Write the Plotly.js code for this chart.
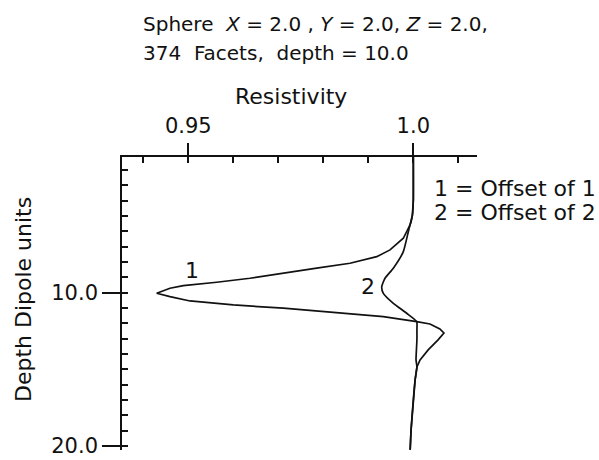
<!DOCTYPE html>
<html>
<head>
<meta charset="utf-8">
<script src="https://cdn.plot.ly/plotly-3.0.1.min.js"></script>
<style>
  body { margin: 0; background: #fff; }
  #chart { width: 599px; height: 460px; }
</style>
</head>
<body>
<div id="chart"></div>
<script>
// offset 1 curve (depth in dipole units, resistivity)
var depth1 = [1.15, 3.96, 4.94, 5.39, 5.59, 6.46, 7.22, 7.66, 8.09, 8.41, 8.74, 9.07, 9.33, 9.55, 9.72, 10.05,
              10.27, 10.55, 10.81, 11.02, 11.29, 11.57, 11.90, 12.05, 12.37, 12.64, 13.09, 13.74, 14.39, 14.85, 15.70, 17.0, 18.96, 20.26];
var res1   = [1.0, 1.0, 0.9998, 0.9995, 0.99927, 0.99778, 0.99482, 0.99187, 0.98593, 0.97853, 0.97111, 0.96371, 0.95631, 0.94889, 0.94593, 0.94298,
              0.94593, 0.95038, 0.96, 0.97111, 0.98222, 0.99333, 1.00076, 1.0037, 1.0059, 1.0068, 1.0055, 1.0033, 1.0015, 1.0008, 1.0004, 1.0, 0.9995, 0.9993];

// offset 2 curve
var depth2 = [1.15, 3.96, 4.94, 5.39, 5.59, 6.03, 7.33, 8.41, 9.07, 9.62, 10.05, 10.70, 11.35, 11.90, 12.44, 13.09, 14.39, 14.85, 15.70, 17.0, 18.96, 20.26];
var res2   = [1.0, 1.0, 0.9998, 0.9995, 0.99927, 0.99889, 0.99778, 0.99556, 0.99371, 0.99298, 0.99333, 0.99556, 0.99853, 1.00076, 1.0008, 1.0008, 1.0006, 1.0008, 1.0004, 1.0, 0.9995, 0.9993];

var xTickVals = [0.95, 1.0];
var xTickText = ["0.95", "1.0"];
var xMinorStep = 0.01;
var yTickVals = [10, 20];
var yTickText = ["10.0", "20.0"];
var yMinorStep = 1;

var ink = "#111";
var fnt = {family: "DejaVu Sans", size: 22, color: ink};
var titleFnt = {family: "DejaVu Sans", size: 20, color: ink};
var tickFnt = {family: "DejaVu Sans", size: 21, color: ink};

var xRange = [0.93527, 1.01415];
var yRange = [20.27, 1.16];

// map plotly's formatted tick labels onto the labels of the figure
var xAlias = {};
xTickVals.forEach(function (v, i) { xAlias[v.toFixed(2)] = xTickText[i]; });
var yAlias = {};
yTickVals.forEach(function (v, i) { yAlias[v.toFixed(1)] = yTickText[i]; });

var traces = [
  {x: res1, y: depth1, mode: "lines", type: "scatter", line: {color: ink, width: 1.7}, hoverinfo: "none"},
  {x: res2, y: depth2, mode: "lines", type: "scatter",
   line: {color: ink, width: 1.7, shape: "spline", smoothing: 0.5}, hoverinfo: "none"}
];

var layout = {
  width: 599,
  height: 460,
  margin: {l: 122, r: 122, t: 157, b: 10},
  showlegend: false,
  paper_bgcolor: "#fff",
  plot_bgcolor: "#fff",
  font: fnt,
  xaxis: {
    side: "top", range: xRange,
    tickmode: "linear", tick0: xTickVals[0], dtick: xTickVals[1] - xTickVals[0],
    tickformat: ".2f", labelalias: xAlias,
    ticks: "outside", ticklen: 12, tickwidth: 2, tickcolor: ink, tickfont: tickFnt, ticklabelstandoff: 2,
    minor: {tick0: 0, dtick: xMinorStep, ticks: "inside", ticklen: 6, tickwidth: 2, tickcolor: ink, showgrid: false},
    showline: true, linecolor: ink, linewidth: 1.8, showgrid: false, zeroline: false
  },
  yaxis: {
    range: yRange,
    tickmode: "linear", tick0: yTickVals[0], dtick: yTickVals[1] - yTickVals[0],
    tickformat: ".1f", labelalias: yAlias,
    ticks: "outside", ticklen: 18, tickwidth: 2, tickcolor: ink, tickfont: tickFnt,
    minor: {tick0: 0, dtick: yMinorStep, ticks: "inside", ticklen: 6, tickwidth: 2, tickcolor: ink, showgrid: false},
    showline: true, linecolor: ink, linewidth: 1.8, showgrid: false, zeroline: false
  },
  annotations: [
    {xref: "paper", yref: "paper", x: 0.0535, y: 1.454, xanchor: "left", yanchor: "middle", showarrow: false,
     text: "Sphere  <i>X</i> = 2.0 , <i>Y</i> = 2.0, <i>Z</i> = 2.0,", font: titleFnt},
    {xref: "paper", yref: "paper", x: 0.0535, y: 1.355, xanchor: "left", yanchor: "middle", showarrow: false,
     text: "374  Facets,  depth = 10.0", font: titleFnt},
    {xref: "paper", yref: "paper", x: 0.476, y: 1.205, xanchor: "center", yanchor: "middle", showarrow: false,
     text: "Resistivity", font: fnt},
    {xref: "paper", yref: "paper", x: -0.276, y: 0.512, xanchor: "center", yanchor: "middle", showarrow: false,
     textangle: -90, text: "Depth Dipole units", font: fnt},
    {xref: "paper", yref: "paper", x: 0.873, y: 0.894, xanchor: "left", yanchor: "middle", showarrow: false,
     text: "1 = Offset of 1", font: fnt},
    {xref: "paper", yref: "paper", x: 0.873, y: 0.809, xanchor: "left", yanchor: "middle", showarrow: false,
     text: "2 = Offset of 2", font: fnt},
    {x: 0.95076, y: 8.53, showarrow: false, text: "1", font: fnt},
    {x: 0.99, y: 9.62, showarrow: false, text: "2", font: fnt}
  ]
};

Plotly.newPlot("chart", traces, layout, {staticPlot: true});
</script>
</body>
</html>
